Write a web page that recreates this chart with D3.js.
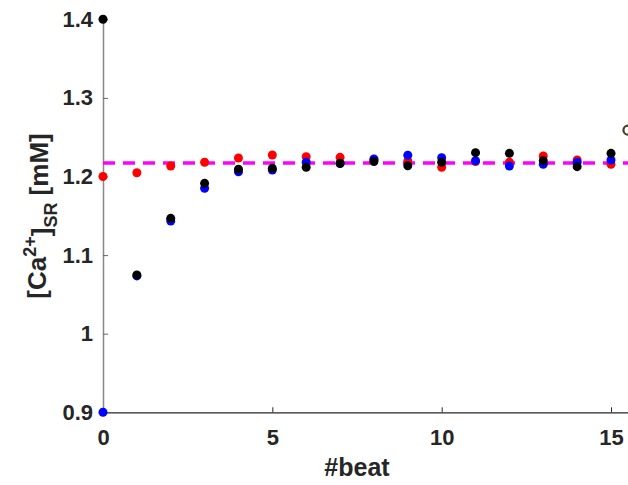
<!DOCTYPE html>
<html>
<head>
<meta charset="utf-8">
<script src="https://cdn.jsdelivr.net/npm/d3@7/dist/d3.min.js"></script>
<style>
  html, body { margin: 0; padding: 0; background: #fff; }
  svg { display: block; }
  text { font-family: "Liberation Sans", Arial, Helvetica, sans-serif; font-weight: bold; fill: #262626; }
</style>
</head>
<body>
<svg id="chart" width="628" height="485"></svg>
<script>
// ---- data ----
const beats = [0,1,2,3,4,5,6,7,8,9,10,11,12,13,14,15];
const redSeries   = [1.200,1.2048,1.2134,1.2181,1.2235,1.2274,1.2252,1.2244,1.2210,1.2197,1.2117,1.2190,1.2181,1.2261,1.2210,1.2155];
const blueSeries  = [0.900,1.0735,1.1434,1.1850,1.2061,1.2083,1.2181,1.2166,1.2223,1.2270,1.2239,1.2201,1.2134,1.2155,1.2181,1.2210];
const blackSeries = [1.400,1.0747,1.1468,1.1913,1.2092,1.2104,1.2117,1.2168,1.2191,1.2137,1.2181,1.2303,1.2295,1.2201,1.2125,1.2295];
const steadyState = 1.2172;
const extraPoint = [{x: 15.5, y: 1.259}];
const xTicks = [0, 5, 10, 15];
const yTicks = [0.9, 1.0, 1.1, 1.2, 1.3, 1.4];
const yTickLabels = ["0.9", "1", "1.1", "1.2", "1.3", "1.4"];

// ---- layout ----
const svg = d3.select("#chart");
const x = d3.scaleLinear().domain([0, 15]).range([103, 611]);
const y = d3.scaleLinear().domain([0.9, 1.4]).range([412.3, 19.3]);
const xEnd = 16;

// x axis (black) with inward ticks
const xAxis = d3.axisBottom(x.copy().domain([0, xEnd]).range([103, x(xEnd)]))
  .tickValues(xTicks).tickSizeInner(-5).tickSizeOuter(0).tickPadding(17)
  .tickFormat(d3.format("d"));
const gx = svg.append("g").attr("transform", `translate(0,${y(0.9)})`).call(xAxis);
gx.select(".domain").attr("stroke", "#262626").attr("stroke-width", 1.2);
gx.selectAll(".tick line").attr("stroke", "#262626");
gx.selectAll(".tick text").style("font-size", "22px").attr("fill", "#262626").attr("dy", "0.71em");

// y axis (gray line) with inward ticks
const yAxis = d3.axisLeft(y).tickValues(yTicks).tickSizeInner(-5).tickSizeOuter(0).tickPadding(10)
  .tickFormat((d, i) => yTickLabels[i]);
const gy = svg.append("g").attr("transform", `translate(103,0)`).call(yAxis);
gy.select(".domain").attr("stroke", "#888").attr("stroke-width", 1.5);
gy.selectAll(".tick line").attr("stroke", "#666");
gy.selectAll(".tick text").style("font-size", "22px").attr("fill", "#262626");

// steady state dashed line
svg.append("line")
  .attr("x1", x(0)).attr("x2", 628)
  .attr("y1", y(steadyState)).attr("y2", y(steadyState))
  .attr("stroke", "#ff00ff").attr("stroke-width", 3.5)
  .attr("stroke-dasharray", "12,8");

// points
function drawSeries(vals, color) {
  svg.append("g").selectAll("circle").data(vals).join("circle")
    .attr("cx", (d, i) => x(beats[i])).attr("cy", d => y(d))
    .attr("r", 4.5).attr("fill", color);
}
drawSeries(redSeries, "#ff0000");
drawSeries(blueSeries, "#0000ff");
drawSeries(blackSeries, "#000000");

svg.append("g").selectAll("circle").data(extraPoint).join("circle")
  .attr("cx", d => x(d.x)).attr("cy", d => y(d.y)).attr("r", 4.5)
  .attr("fill", "none").attr("stroke", "#4a3c20").attr("stroke-width", 2.2);

// axis labels
svg.append("text").attr("x", x(7.5)).attr("y", 476).attr("text-anchor", "middle")
  .style("font-size", "25px").text("#beat");

const yl = svg.append("text").attr("transform", "translate(46,216) rotate(-90)")
  .attr("text-anchor", "middle").style("font-size", "26px");
yl.append("tspan").text("[Ca");
yl.append("tspan").attr("dy", "-0.55em").style("font-size", "18px").text("2+");
yl.append("tspan").attr("dy", "0.55em").text("]");
yl.append("tspan").attr("dy", "0.35em").style("font-size", "18px").text("SR");
yl.append("tspan").attr("dy", "-0.35em").text(" [mM]");
</script>
</body>
</html>
